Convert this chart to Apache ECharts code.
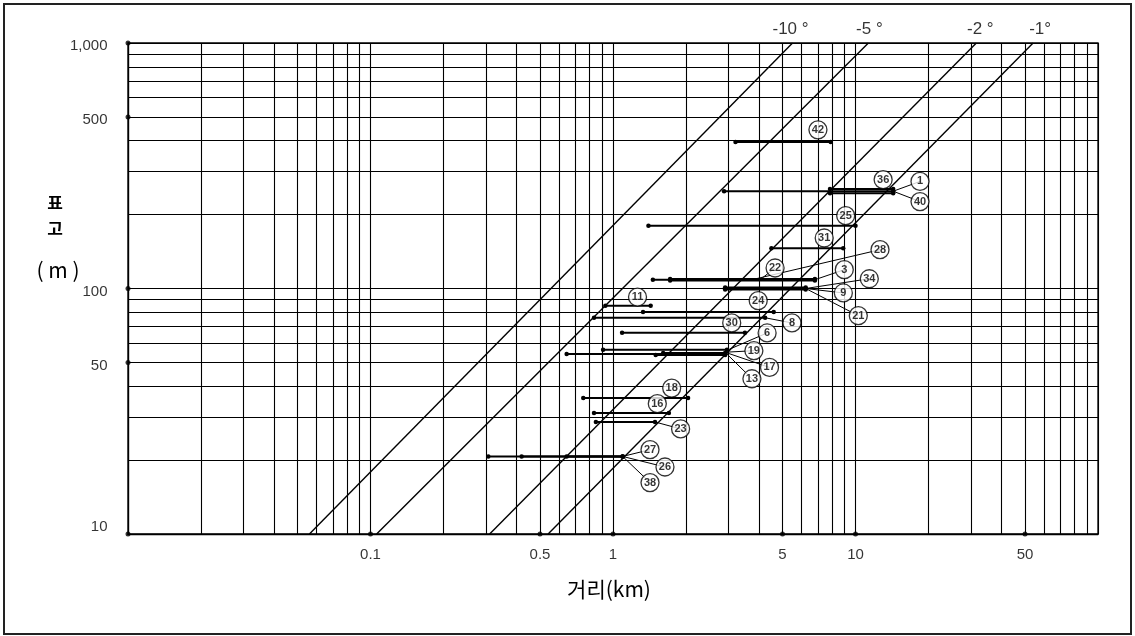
<!DOCTYPE html>
<html><head><meta charset="utf-8">
<script src="https://cdn.jsdelivr.net/npm/echarts@6/dist/echarts.min.js"></script>
<style>html,body{margin:0;padding:0;background:#fff}#c{width:1135px;height:636px}</style>
</head><body><div id="c"></div>
<script>
// ---------- data ----------
const xRange = [0.01, 100];          // 거리 (km)
const yRange = [10, 1000];           // 표고 (m)
const xMinorGrid = [0.02,0.03,0.04,0.05,0.06,0.07,0.08,0.09,
                    0.2,0.3,0.4,0.5,0.6,0.7,0.8,0.9,
                    2,3,4,5,6,7,8,9,
                    20,30,40,50,60,70,80,90];
const yMinorGrid = [20,30,40,50,60,70,80,90,200,300,400,500,600,700,800,900];
const xTickValues = [0.1, 0.5, 1, 5, 10, 50];
const xTickLabels = ['0.1', '0.5', '1', '5', '10', '50'];
const yTickValues = [1000, 500, 100, 50, 10];
const yTickLabels = ['1,000', '500', '100', '50', '10'];

const slopeNames = ['-10 °', '-5 °', '-2 °', '-1°'];
const slopeStartKm = [0.056, 0.106, 0.31, 0.54];   // at 10 m
const slopeEndKm   = [5.5, 11.3, 31.5, 54];        // at 1000 m

const segIds     = ['42','1','36','40','25','31','22','3','28','34','9','21','11','24','8','30','6','19','17','13','18','16','23','27','26','38'];
const segHeights = [395,249,254,244.5,180,146,108.6,107.8,109.4,101,100,99,85,80.2,76,66,56.3,54.1,53.6,54.6,35.8,31.1,28.6,20.7,20.7,20.7];
const segStart   = [3.2,2.87,7.85,7.85,1.4,4.5,1.46,1.72,1.72,2.9,2.9,2.9,0.93,1.33,0.835,1.09,0.91,0.644,1.5,1.61,0.754,0.835,0.85,0.306,0.42,0.644];
const segEnd     = [7.9,14.3,14.3,14.3,10.0,8.9,6.8,6.8,6.8,6.23,6.23,6.23,1.43,4.6,4.24,3.5,2.95,2.9,2.9,2.9,2.04,1.7,1.49,1.096,1.096,1.096];

// callout circles (data coordinates) and leader-line targets (null = no leader)
const labelX  = [7.0,18.45,13.0,18.45,9.11,7.43,4.66,8.99,12.62,11.4,8.91,10.27,1.262,3.97,5.47,3.087,4.32,3.81,4.42,3.74,1.746,1.523,1.90,1.421,1.638,1.421];
const labelY  = [443,273,277.5,226,198,160.6,121.2,119.3,143.9,109.6,95.9,77.5,92.3,89.2,72.4,72.4,65.9,55.8,47.7,42.9,39.3,33.95,26.8,22.05,18.75,16.2];
const leaderX = [null,14.3,null,14.3,null,null,4.04,6.8,3.74,6.23,6.23,6.23,null,null,4.24,null,2.95,2.9,2.9,2.9,null,null,1.49,1.096,1.096,1.096];
const leaderY = [null,249,null,249,null,null,108.6,108.6,108.6,100,100,100,null,null,76,null,56,55,55,55,null,null,28.6,20.7,20.7,20.7];

// ---------- chart ----------
const chart = echarts.init(document.getElementById('c'), null, {renderer: 'canvas'});
const series = [];
const ink = '#000';

// minor grid lines
series.push({
  type: 'line', data: [], silent: true, z: 1, animation: false,
  markLine: {
    silent: true, animation: false, symbol: ['none', 'none'],
    label: {show: false}, emphasis: {disabled: true},
    lineStyle: {type: 'solid', color: '#000', width: 1.1},
    data: [...xMinorGrid.map(v => ({xAxis: v})), ...yMinorGrid.map(v => ({yAxis: v}))]
  }
});

// slope lines
const slopeLabelDx = [-2, 1, 4, 7];
slopeNames.forEach((n, i) => {
  series.push({
    type: 'line', z: 3, silent: true, symbol: 'none', animation: false,
    lineStyle: {color: ink, width: 1.4},
    data: [[slopeStartKm[i], yRange[0]], [slopeEndKm[i], yRange[1]]]
  });
});
series.push({
  type: 'scatter', z: 3, silent: true, clip: false, animation: false,
  symbol: 'circle', symbolSize: 1, itemStyle: {color: 'rgba(0,0,0,0)'},
  data: slopeNames.map((n, i) => ({
    value: [slopeEndKm[i], yRange[1]],
    label: {show: true, formatter: n, position: 'top', distance: 5, offset: [slopeLabelDx[i], 0],
            fontSize: 17, color: ink, fontFamily: 'Liberation Sans, Arial, sans-serif'}
  }))
});

// horizontal segments
segIds.forEach((id, i) => {
  series.push({
    type: 'line', z: 4, silent: true, animation: false,
    symbol: 'circle', symbolSize: 4.5, showSymbol: true, showAllSymbol: true,
    itemStyle: {color: ink}, lineStyle: {color: ink, width: 2},
    data: [[segStart[i], segHeights[i]], [segEnd[i], segHeights[i]]]
  });
});

// leader lines
segIds.forEach((id, i) => {
  if (leaderX[i] === null) return;
  series.push({
    type: 'line', z: 5, silent: true, animation: false, symbol: 'none',
    lineStyle: {color: ink, width: 1},
    data: [[labelX[i], labelY[i]], [leaderX[i], leaderY[i]]]
  });
});

// circled numbers
series.push({
  type: 'scatter', z: 6, silent: true, clip: false, animation: false,
  symbol: 'circle', symbolSize: 18,
  itemStyle: {color: '#fff', borderColor: ink, borderWidth: 1.3},
  label: {show: true, position: 'inside', formatter: p => p.value[2], color: ink,
          fontSize: 11, fontWeight: 'bold', fontFamily: 'Liberation Sans Narrow, Liberation Sans, Arial, sans-serif'},
  data: segIds.map((id, i) => [labelX[i], labelY[i], id])
});

// axis tick dots and labels
const tickFont = {fontSize: 15, color: ink, fontFamily: 'Liberation Sans, Arial, sans-serif'};
series.push({
  type: 'scatter', z: 7, silent: true, clip: false, animation: false,
  symbol: 'circle', symbolSize: 5, itemStyle: {color: ink},
  label: Object.assign({show: true, position: 'left', distance: 18, offset: [0, 3],
                        formatter: p => p.value[2]}, tickFont),
  data: yTickValues.map((v, i) => {
    const d = {value: [xRange[0], v, yTickLabels[i]]};
    if (v === yRange[0]) d.label = {offset: [0, -7]};
    return d;
  })
});
series.push({
  type: 'scatter', z: 7, silent: true, clip: false, animation: false,
  symbol: 'circle', symbolSize: 5, itemStyle: {color: ink},
  label: Object.assign({show: true, position: 'bottom', distance: 11,
                        formatter: p => p.value[2]}, tickFont),
  data: xTickValues.map((v, i) => [v, yRange[0], xTickLabels[i]])
});

const axisCommon = {
  type: 'log', logBase: 10,
  axisLine: {show: true, lineStyle: {color: ink, width: 1.3}},
  axisTick: {show: false}, axisLabel: {show: false},
  splitLine: {show: true, lineStyle: {color: '#000', width: 1.1}},
  minorTick: {show: false}, minorSplitLine: {show: false}
};

chart.setOption({
  animation: false,
  backgroundColor: '#fff',
  grid: {left: 128, top: 43, right: 37, bottom: 102, show: true, borderColor: ink, borderWidth: 1.3,
         outerBoundsMode: 'none'},
  xAxis: Object.assign({min: xRange[0], max: xRange[1]}, axisCommon),
  yAxis: Object.assign({min: yRange[0], max: yRange[1]}, axisCommon),
  series: series,
  graphic: [
    {type: 'rect', silent: true, z: 0, shape: {x: 4, y: 4, width: 1127, height: 630},
     style: {fill: 'none', stroke: '#222', lineWidth: 2}},
    {type: 'text', silent: true, x: 55, y: 203,
     style: {text: '표', font: 'bold 17px "Noto Sans CJK KR"', fill: ink, align: 'center', verticalAlign: 'middle'}},
    {type: 'text', silent: true, x: 55, y: 229,
     style: {text: '고', font: 'bold 17px "Noto Sans CJK KR"', fill: ink, align: 'center', verticalAlign: 'middle'}},
    {type: 'text', silent: true, x: 58, y: 270,
     style: {text: '( m )', font: '21px "Noto Sans CJK KR"', fill: ink, align: 'center', verticalAlign: 'middle'}},
    {type: 'text', silent: true, x: 609, y: 589,
     style: {text: '거리(km)', font: '21px "Noto Sans CJK KR"', fill: ink, align: 'center', verticalAlign: 'middle'}}
  ]
});
</script>
</body></html>
